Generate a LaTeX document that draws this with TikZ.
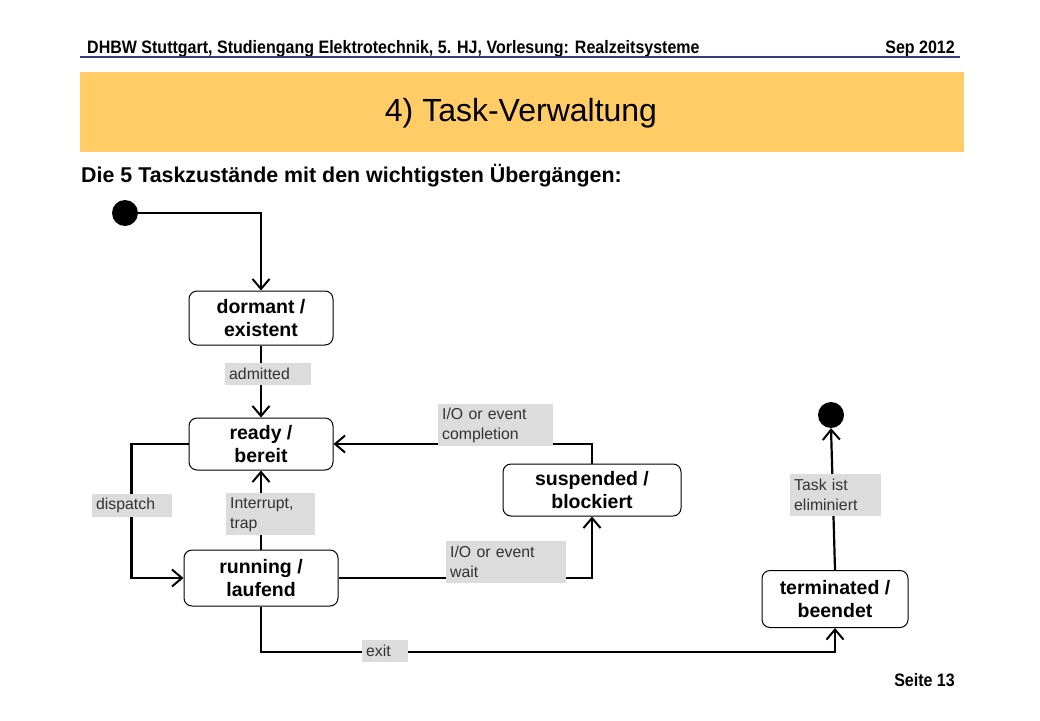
\documentclass[tikz,border=0pt]{standalone}
\usepackage{fontspec}
\setmainfont{Liberation Sans}
\usepackage{tikz}
\usepackage{xcolor}
\usetikzlibrary{positioning,calc,arrows.meta}
\definecolor{band}{RGB}{255, 204, 102}
\definecolor{headrule}{RGB}{60, 60, 124}
\definecolor{lblgray}{RGB}{220, 220, 220}
\definecolor{lbltext}{RGB}{50, 50, 50}

\tikzset{
  state/.style={draw, line width=1pt, rounded corners=8pt, align=center, inner sep=0pt,
    font=\bfseries\fontsize{19.5}{23}\selectfont},
  dot/.style={circle, fill=black, minimum size=26pt, inner sep=0pt},
  conn/.style={line width=2.2pt, -{Straight Barb[length=10pt,width=17pt,line width=2pt]}},
  lbl/.style={fill=lblgray, anchor=north west, inner xsep=4pt, inner ysep=0pt, align=left,
    text=lbltext, font=\fontsize{15.8}{20}\selectfont}
}

\begin{document}
\begin{tikzpicture}[x=1pt, y=-1pt]
        \useasboundingbox (0,0) rectangle (1040,720);

        % header
        \node[anchor=base west, inner sep=0pt, font=\bfseries\fontsize{18}{20}\selectfont] (head) at (87,53)
          {\scalebox{0.89}[1]{DHBW Stuttgart, Studiengang Elektrotechnik, 5. HJ, Vorlesung: Realzeitsysteme}};
        \node[anchor=base east, inner sep=0pt, font=\bfseries\fontsize{18}{20}\selectfont] (date) at (955,53)
          {\scalebox{0.89}[1]{Sep 2012}};
        \draw[headrule, line width=2pt] (80,57) -- (960,57);

        \fill[band] (80,72) rectangle (964,152);
        \node[font=\fontsize{32}{36}\selectfont] (title) at (521,113) {4) Task-Verwaltung};

        \node[anchor=base west, inner sep=0pt, font=\bfseries\fontsize{21.4}{24}\selectfont] (sub) at (81,182)
          {Die 5 Taskzust\"ande mit den wichtigsten \"Uberg\"angen:};

        % states
        \node[dot] (start) at (125,213) {};
        \node[dot] (stop) at (831,415) {};

        \node[state, minimum width=144pt, minimum height=54pt] (dormant) at (261,318) {dormant /\\existent};
        \node[state, minimum width=144pt, minimum height=52pt] (ready) at (261,444) {ready /\\bereit};
        \node[state, minimum width=178pt, minimum height=52pt] (suspended) at (592,490) {suspended /\\blockiert};
        \node[state, minimum width=154pt, minimum height=56pt] (running) at (261,578) {running /\\laufend};
        \node[state, minimum width=146pt, minimum height=57pt] (terminated) at (835,599) {terminated /\\beendet};

        % transitions
        \coordinate (exitc) at (261,652);
        \draw[conn] (start.east) -| (dormant.north);
        \draw[conn] (dormant.south) -- (ready.north);
        \draw[conn] (ready.west) -- ++(-57,0) |- (running.west);
        \draw[conn] (running.north) -- (ready.south);
        \draw[conn] (running.east) -| (suspended.south);
        \draw[conn] (suspended.north) |- (ready.east);
        \draw[conn] (running.south) -- (exitc) -| (terminated.south);
        \draw[conn] (terminated.north) -- (stop.south);

        % labels
        \node[lbl, text width=78pt, minimum height=22pt] (ladmit) at (225,363) {admitted};
        \node[lbl, text width=107pt, minimum height=42pt] (lcompl) at (438,404) {I/O or event\\completion};
        \node[lbl, text width=72pt, minimum height=23pt] (ldisp) at (92,494) {dispatch};
        \node[lbl, text width=81pt, minimum height=42pt] (lintr) at (226,493) {Interrupt,\\trap};
        \node[lbl, text width=112pt, minimum height=42pt] (lwait) at (446,541) {I/O or event\\wait};
        \node[lbl, text width=83pt, minimum height=42pt] (lkill) at (790,474) {Task ist\\eliminiert};
        \node[lbl, text width=38pt, minimum height=22pt] (lexit) at (362,640) {exit};

        % footer
        \node[anchor=base east, inner sep=0pt, font=\bfseries\fontsize{18}{20}\selectfont] (page) at (955,686)
          {\scalebox{0.89}[1]{Seite 13}};
\end{tikzpicture}
\end{document}
